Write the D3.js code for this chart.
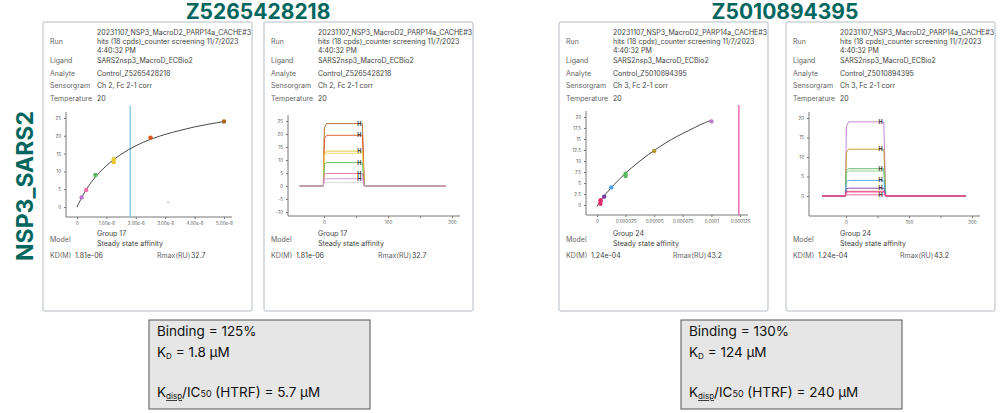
<!DOCTYPE html>
<html><head><meta charset="utf-8">
<script src="https://cdn.jsdelivr.net/npm/d3@7"></script>
<style>
body{margin:0;background:#fff;}
text{font-family:Inter,"Noto Sans",sans-serif;}
</style></head>
<body><svg id="c" width="1000" height="413"></svg>
<script>
// compounds & summary
const compounds = ["Z5265428218", "Z5010894395"];
const sensorgrams = ["Ch 2, Fc 2-1 corr", "Ch 3, Fc 2-1 corr"];
const groups = ["Group 17", "Group 24"];
const kdText = ["1.81e-06", "1.24e-04"];
const rmaxText = ["32.7", "43.2"];
const bindingText = ["Binding = 125%", "Binding = 130%"];
const kdUM = ["1.8", "124"];
const ic50 = ["5.7", "240"];

// affinity plot 1
const aff1Conc = [0.156e-6, 0.3125e-6, 0.625e-6, 1.25e-6, 1.25e-6, 2.5e-6, 5e-6];
const aff1Resp = [2.7, 4.8, 9.0, 13.4, 12.6, 19.5, 24.0];
const aff1Colors = ["#b777cf", "#ef6aa8", "#5cb85c", "#e8c830", "#e8c830", "#e0541e", "#a8641f"];
const aff1FitConc = [0, 0.25e-6, 0.5e-6, 1e-6, 1.5e-6, 2e-6, 2.5e-6, 3e-6, 3.5e-6, 4e-6, 4.5e-6, 5e-6];
const aff1FitResp = [0, 4.0, 7.1, 11.6, 14.8, 17.2, 19.0, 20.4, 21.5, 22.5, 23.3, 24.0];
const aff1Ticks = [0, 1e-6, 2e-6, 3e-6, 4e-6, 5e-6];
const aff1TickLabels = ["0", "1.00e-6", "2.00e-6", "3.00e-6", "4.00e-6", "5.00e-6"];
const aff1Y = [0, 5, 10, 15, 20, 25];

// affinity plot 2
const aff2Conc = [3e-6, 3e-6, 3.2e-6, 6.2e-6, 12.5e-6, 25e-6, 25e-6, 50e-6, 100e-6];
const aff2Resp = [0.3, 0.9, 1.1, 1.9, 4.0, 6.6, 7.1, 12.3, 19.0];
const aff2Colors = ["#e0306a", "#e0306a", "#e0306a", "#7b3fa0", "#4a9fe0", "#5cb85c", "#5cb85c", "#b8962a", "#c07ad0"];
const aff2FitConc = [0, 5e-6, 10e-6, 20e-6, 30e-6, 40e-6, 50e-6, 60e-6, 70e-6, 80e-6, 90e-6, 100e-6];
const aff2FitResp = [-0.3, 1.7, 3.2, 6.0, 8.4, 10.5, 12.4, 14.1, 15.6, 16.9, 18.2, 19.3];
const aff2Ticks = [0, 25e-6, 50e-6, 75e-6, 100e-6, 125e-6];
const aff2TickLabels = ["0", "0.000025", "0.00005", "0.000075", "0.0001", "0.000125"];
const aff2Y = [0, 2.5, 5, 7.5, 10, 12.5, 15, 17.5, 20];

// sensorgram levels
const sg1Levels = [24.0, 19.5, 13.4, 12.6, 9.0, 4.8, 2.8, 1.4];
const sg1Colors = ["#a8641f", "#e0541e", "#e8c830", "#f0d060", "#5cb85c", "#ef6aa8", "#c990d8", "#bbbbbb"];
const sg2Levels = [19.0, 12.0, 7.0, 6.4, 4.0, 2.0, 1.2, 1.0, 0.3];
const sg2Colors = ["#c07ad0", "#b8962a", "#5cb85c", "#8cd08c", "#4a9fe0", "#7b3fa0", "#e0306a", "#f06292", "#e85090"];
const sgTime = [-38, -1, 0.6, 4, 58, 60, 63, 190];
const sgShape = [0, 0, 0.93, 1, 1, 1, 0, 0];
const sgMarkers = [55];

const svg = d3.select("#c");
const teal = "#00665e";

function panel(x0, ci) {
  const g = svg.append("g").attr("transform", `translate(${x0},22)`);
  g.append("rect").attr("x", 0).attr("y", 0).attr("width", 209).attr("height", 289)
    .attr("fill", "#fff").attr("stroke", "#d0d4d8").attr("stroke-width", 1.5).attr("rx", 2);
  const lab = (t, y) => g.append("text").attr("x", 7).attr("y", y).attr("font-size", 7).attr("fill", "#666").text(t);
  const val = (t, y, x) => g.append("text").attr("x", x || 54).attr("y", y).attr("font-size", 7).attr("fill", "#444").text(t);
  lab("Run", 22);
  val("20231107_NSP3_MacroD2_PARP14a_CACHE#3", 13);
  val("hits (18 cpds)_counter screening 11/7/2023", 22);
  val("4:40:32 PM", 31);
  lab("Ligand", 41); val("SARS2nsp3_MacroD_ECBio2", 41);
  lab("Analyte", 54); val("Control_" + compounds[ci], 54);
  lab("Sensorgram", 66); val(sensorgrams[ci], 66);
  lab("Temperature", 79); val("20", 79);
  lab("Model", 220); val(groups[ci], 214); val("Steady state affinity", 224);
  lab("KD(M)", 236); val(kdText[ci], 236, 32);
  lab("Rmax(RU)", 236).attr("x", 114); val(rmaxText[ci], 236, 148);
  return g;
}

function axes(g, x, y, xt, xl, yt, yl, axisX, axisY) {
  const ax = g.append("g").attr("transform", `translate(0,${axisY})`)
    .call(d3.axisBottom(x).tickValues(xt).tickFormat((d, i) => xl[i]).tickSize(2));
  const ay = g.append("g").attr("transform", `translate(${axisX},0)`)
    .call(d3.axisLeft(y).tickValues(yt).tickFormat((d, i) => yl[i]).tickSize(2));
  [ax, ay].forEach(a => {
    a.selectAll("path,line").attr("stroke", "#777");
    a.selectAll("text").attr("font-size", 4.5).attr("fill", "#555");
  });
  ax.select(".domain").attr("d", `M${axisX},0H${x.range()[1] + 8}`);
  ay.select(".domain").attr("d", `M0,${axisY}V${y.range()[1] - 6}`);
}

function affinity(g, conc, resp, cols, fc, fr, xt, xl, yt, kd, vcol, domX, domY, rX, rY, axisX, axisY, extra) {
  const x = d3.scaleLinear().domain(domX).range(rX);
  const y = d3.scaleLinear().domain(domY).range(rY);
  axes(g, x, y, xt, xl, yt, yt.map(String), axisX, axisY);
  g.append("line").attr("x1", x(kd)).attr("x2", x(kd)).attr("y1", y.range()[1] - 12).attr("y2", axisY)
    .attr("stroke", vcol).attr("stroke-width", 1.3);
  g.append("path").datum(fc.map((c, i) => [c, fr[i]]))
    .attr("d", d3.line().x(d => x(d[0])).y(d => y(d[1])).curve(d3.curveMonotoneX))
    .attr("fill", "none").attr("stroke", "#333").attr("stroke-width", 0.9);
  g.selectAll(".pt").data(conc).enter().append("circle")
    .attr("cx", d => x(d)).attr("cy", (d, i) => y(resp[i])).attr("r", 2.2)
    .attr("fill", (d, i) => cols[i]);
  if (extra) g.append("text").attr("x", x(extra[0])).attr("y", y(extra[1]) + 2)
    .attr("text-anchor", "middle").attr("font-size", 6).attr("fill", "#bbb").text("×");
}

function sensor(g, levels, cols, domY, rY, yt, x0r, axisX, axisY) {
  const x = d3.scaleLinear().domain([0, 200]).range(x0r);
  const y = d3.scaleLinear().domain(domY).range(rY);
  axes(g, x, y, [0, 50, 100, 150, 200], ["0", "", "100", "", "200"], yt, yt.map(String), axisX, axisY);
  const line = d3.line().x(d => x(d[0])).y(d => y(d[1]));
  levels.forEach((L, k) => {
    const pts = sgTime.map((t, i) => [t, sgShape[i] * L]);
    g.append("path").datum(pts).attr("d", line).attr("fill", "none")
      .attr("stroke", cols[k]).attr("stroke-width", 0.9)
      .attr("stroke-dasharray", cols[k] === "#bbbbbb" ? "1.5,1" : null);
  });
  // fit-range markers, one per distinct level band
  const marked = [];
  levels.forEach(L => {
    if (marked.some(m => Math.abs(y(m) - y(L)) < 4.5)) return;
    marked.push(L);
    sgMarkers.forEach(t => g.append("text").attr("x", x(t)).attr("y", y(L) + 2)
      .attr("text-anchor", "middle").attr("font-size", 5.5).attr("font-weight", "bold")
      .attr("fill", "#333").text("H"));
  });
}

const p1 = panel(43, 0), p2 = panel(264, 0), p3 = panel(559, 1), p4 = panel(786, 1);
affinity(p1, aff1Conc, aff1Resp, aff1Colors, aff1FitConc, aff1FitResp, aff1Ticks, aff1TickLabels, aff1Y,
  1.81e-6, "#7ec3de", [0, 5e-6], [0, 25], [34, 181], [185, 96], 23, 195, [3.1e-6, 1.5]);
sensor(p2, sg1Levels, sg1Colors, [-10, 25], [190, 99], [-10, -5, 0, 5, 10, 15, 20, 25], [60, 188], 24, 194);
affinity(p3, aff2Conc, aff2Resp, aff2Colors, aff2FitConc, aff2FitResp, aff2Ticks, aff2TickLabels, aff2Y,
  1.24e-4, "#f05aa0", [0, 125e-6], [0, 20], [38, 181], [183, 95], 27, 193, null);
sensor(p4, sg2Levels, sg2Colors, [0, 20], [174, 96], [0, 5, 10, 15, 20], [60, 186], 23, 194);

// titles
[258, 785].forEach((cx, i) => svg.append("text").attr("x", cx).attr("y", 19).attr("text-anchor", "middle")
  .attr("font-family", "Open Sans").attr("font-weight", "bold").attr("font-size", 21).attr("fill", teal)
  .text(compounds[i]));
svg.append("text").attr("transform", "translate(33,186) rotate(-90)").attr("text-anchor", "middle")
  .attr("font-family", "Open Sans").attr("font-weight", "bold").attr("font-size", 23).attr("fill", teal)
  .text("NSP3_SARS2");

// summary boxes
[149, 681].forEach((bx, i) => {
  const g = svg.append("g").attr("transform", `translate(${bx},320)`);
  g.append("rect").attr("width", 221).attr("height", 89).attr("fill", "#e6e6e6").attr("stroke", "#555");
  const t = (y) => g.append("text").attr("x", 8).attr("y", y).attr("font-family", "Open Sans")
    .attr("font-size", 13.5).attr("fill", "#111");
  t(16).text(bindingText[i]);
  const k = t(37); k.append("tspan").text("K"); k.append("tspan").attr("font-size", 8).attr("dy", 2).text("D");
  k.append("tspan").attr("dy", -2).text(" = " + kdUM[i] + " µM");
  const d = t(77); d.append("tspan").text("K"); d.append("tspan").attr("font-size", 8).attr("dy", 2)
    .attr("text-decoration", "underline").text("disp");
  d.append("tspan").attr("dy", -2).text("/IC"); d.append("tspan").attr("font-size", 9).text("50");
  d.append("tspan").text(" (HTRF) = " + ic50[i] + " µM");
});
</script></body></html>
